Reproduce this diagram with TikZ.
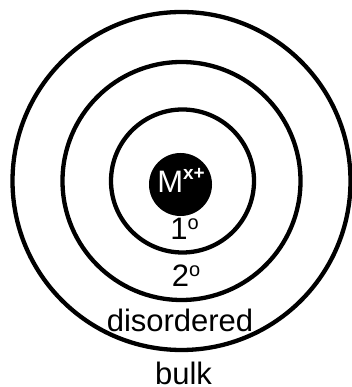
\documentclass[tikz,border=0pt]{standalone}
\usepackage{fontspec}
\setmainfont{Liberation Sans}
\begin{document}
\begin{tikzpicture}[x=1pt,y=1pt,
  ring/.style={draw=black,line width=4.3pt},
  lbl/.style={anchor=base,inner sep=0pt,font=\fontsize{31}{31}\selectfont},
]
\useasboundingbox (0,0) rectangle (351,387);
\coordinate (c) at (181.5,206);
\draw[ring] (c) circle[radius=169];
\draw[ring] (c) circle[radius=119];
\draw[ring] (182.5,206) circle[radius=71.5];
\fill[black] (180.5,202.5) circle[radius=31.5];
\node[lbl,text=white] (ion) at (181,194) {M\raisebox{13pt}{\fontsize{19}{19}\selectfont\bfseries x+}};
\node[lbl] (first) at (184.5,147) {1\raisebox{10pt}{\fontsize{20}{20}\selectfont o}};
\node[lbl] (second) at (186,100) {2\raisebox{10pt}{\fontsize{20}{20}\selectfont o}};
\node[lbl] (dis) at (180,55) {disordered};
\node[lbl] (bulk) at (183.5,2.5) {bulk};
\end{tikzpicture}
\end{document}
